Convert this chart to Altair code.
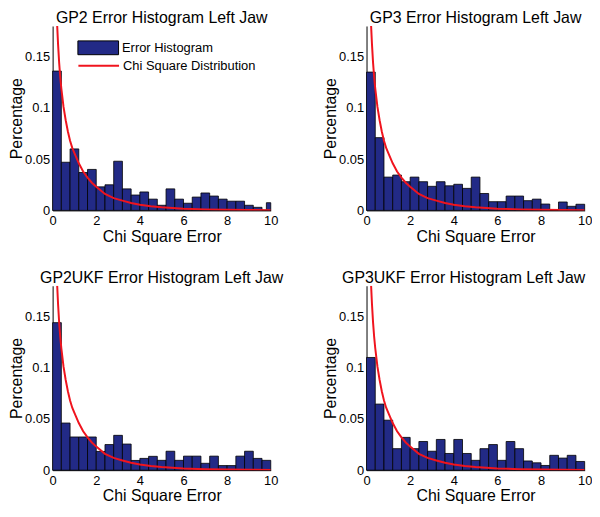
import altair as alt
import pandas as pd

# ---- data ----
bin_lo = [0.0, 0.4, 0.8, 1.2, 1.6, 2.0, 2.4, 2.8, 3.2, 3.6, 4.0, 4.4, 4.8,
          5.2, 5.6, 6.0, 6.4, 6.8, 7.2, 7.6, 8.0, 8.4, 8.8, 9.2, 9.6]
bin_hi = [0.4, 0.8, 1.2, 1.6, 2.0, 2.4, 2.8, 3.2, 3.6, 4.0, 4.4, 4.8, 5.2,
          5.6, 6.0, 6.4, 6.8, 7.2, 7.6, 8.0, 8.4, 8.8, 9.2, 9.6, 10.0]

gp2 = [0.136, 0.047, 0.060, 0.037, 0.040, 0.023, 0.025, 0.048, 0.021, 0.015,
       0.018, 0.011, 0.005, 0.021, 0.011, 0.007, 0.013, 0.017, 0.014, 0.011,
       0.009, 0.009, 0.005, 0.003, 0.0]
gp2_tail_lo = [9.8]
gp2_tail_hi = [10.0]
gp2_tail = [0.0075]

gp3 = [0.135, 0.071, 0.0325, 0.0345, 0.028, 0.0325, 0.028, 0.0235, 0.028, 0.024,
       0.0255, 0.0215, 0.0325, 0.0165, 0.0085, 0.0085, 0.014, 0.014, 0.0095, 0.011,
       0.0062, 0.0, 0.0082, 0.004, 0.006]

gp2ukf = [0.144, 0.046, 0.0324, 0.0324, 0.0324, 0.0183, 0.025, 0.034, 0.0255, 0.0095,
          0.0115, 0.0135, 0.0096, 0.0185, 0.0096, 0.0137, 0.0137, 0.0067, 0.0137, 0.0045,
          0.0045, 0.0137, 0.0185, 0.0115, 0.0096]

gp3ukf = [0.110, 0.0645, 0.0488, 0.021, 0.032, 0.021, 0.028, 0.0185, 0.030, 0.0163,
          0.030, 0.0163, 0.0096, 0.021, 0.025, 0.0096, 0.028, 0.021, 0.009, 0.0072,
          0.0046, 0.0145, 0.0118, 0.0145, 0.0085]

chi_x = [0.21, 0.25, 0.3, 0.35, 0.4, 0.5, 0.6, 0.7, 0.8, 0.9, 1.0, 1.2, 1.4, 1.6,
         1.8, 2.0, 2.4, 2.8, 3.2, 3.6, 4.0, 4.5, 5.0, 6.0, 7.0, 8.0, 9.0, 10.0]
chi_y = [0.180, 0.162, 0.144, 0.130, 0.119, 0.101, 0.088, 0.077, 0.068, 0.061,
         0.056, 0.046, 0.038, 0.032, 0.027, 0.023, 0.016, 0.012, 0.0095, 0.0072,
         0.0055, 0.004, 0.003, 0.0017, 0.001, 0.0006, 0.0004, 0.0002]

titles = ["GP2 Error Histogram Left Jaw", "GP3 Error Histogram Left Jaw",
          "GP2UKF Error Histogram Left Jaw", "GP3UKF Error Histogram Left Jaw"]
hist_name = "Error Histogram"
curve_name = "Chi Square Distribution"
x_title = "Chi Square Error"
y_title = "Percentage"

FONT = "Liberation Sans"
BLUE = "#222a86"
RED = "#f0141e"


def panel(title, lo, hi, vals, height, title_dx=0):
    d = pd.DataFrame({"lo": lo, "hi": hi, "v": vals, "s": hist_name})
    c = pd.DataFrame({"x": chi_x, "y": chi_y, "s": curve_name})
    xs = alt.Scale(domain=[0, 10], nice=False, zero=False)
    ys = alt.Scale(domain=[0, 0.18], nice=False)
    xax = alt.Axis(title=x_title, values=[0, 2, 4, 6, 8, 10], format="d",
                   labelFlush=False, labelPadding=4, titlePadding=1)
    yax = alt.Axis(title=y_title, values=[0, 0.05, 0.1, 0.15], format="~r",
                   labelFlush=False)
    bars = alt.Chart(d).mark_bar(stroke="black", strokeWidth=0.8).encode(
        x=alt.X("lo:Q", scale=xs, axis=xax),
        x2="hi:Q",
        y=alt.Y("v:Q", scale=ys, axis=yax),
        y2=alt.datum(0),
        fill=alt.Fill("s:N", scale=alt.Scale(range=[BLUE]),
                      legend=alt.Legend(title=None, orient="none", legendX=25, legendY=1,
                                        symbolType="M-1,-0.34H1V0.34H-1Z", symbolSize=1681,
                                        symbolStrokeColor="black", symbolStrokeWidth=1,
                                        labelOffset=3, padding=0)),
    )
    line = alt.Chart(c).mark_line(strokeWidth=2, clip=True).encode(
        x=alt.X("x:Q", scale=xs, axis=xax),
        y=alt.Y("y:Q", scale=ys, axis=yax),
        stroke=alt.Stroke("s:N", scale=alt.Scale(range=[RED]),
                          legend=alt.Legend(title=None, orient="none", legendX=25, legendY=18.5,
                                            symbolType="stroke", symbolSize=1681,
                                            symbolStrokeWidth=2, labelOffset=3, padding=0)),
    )
    return alt.layer(bars, line).properties(
        width=220, height=height,
        title=alt.TitleParams(title, fontSize=16, fontWeight="normal", font=FONT,
                              anchor="middle", frame="group", offset=0, color="black",
                              dx=title_dx),
    )


p1 = panel(titles[0], bin_lo + gp2_tail_lo, bin_hi + gp2_tail_hi, gp2 + gp2_tail, 186)
p2 = panel(titles[1], bin_lo, bin_hi, gp3, 186)
p3 = panel(titles[2], bin_lo, bin_hi, gp2ukf, 186)
p4 = panel(titles[3], bin_lo, bin_hi, gp3ukf, 186, title_dx=-12)

chart = alt.concat(p1, p2, p3, p4, columns=2, spacing={"row": 76, "column": 96.6},
                   bounds="flush").properties(
    padding={"left": 0, "top": 0, "right": 0, "bottom": 0}
).configure_view(stroke=None).configure_axis(
    grid=False, ticks=False, tickSize=0, domainColor="black", domainWidth=1,
    labelFont=FONT, labelFontSize=13, labelColor="black", labelPadding=3,
    titleFont=FONT, titleFontSize=16, titleFontWeight="normal", titleColor="black",
    titlePadding=0,
).configure_legend(
    labelFont=FONT, labelFontSize=13, labelColor="black",
)

chart.save("out.html", embed_options={"renderer": "svg", "actions": False})
